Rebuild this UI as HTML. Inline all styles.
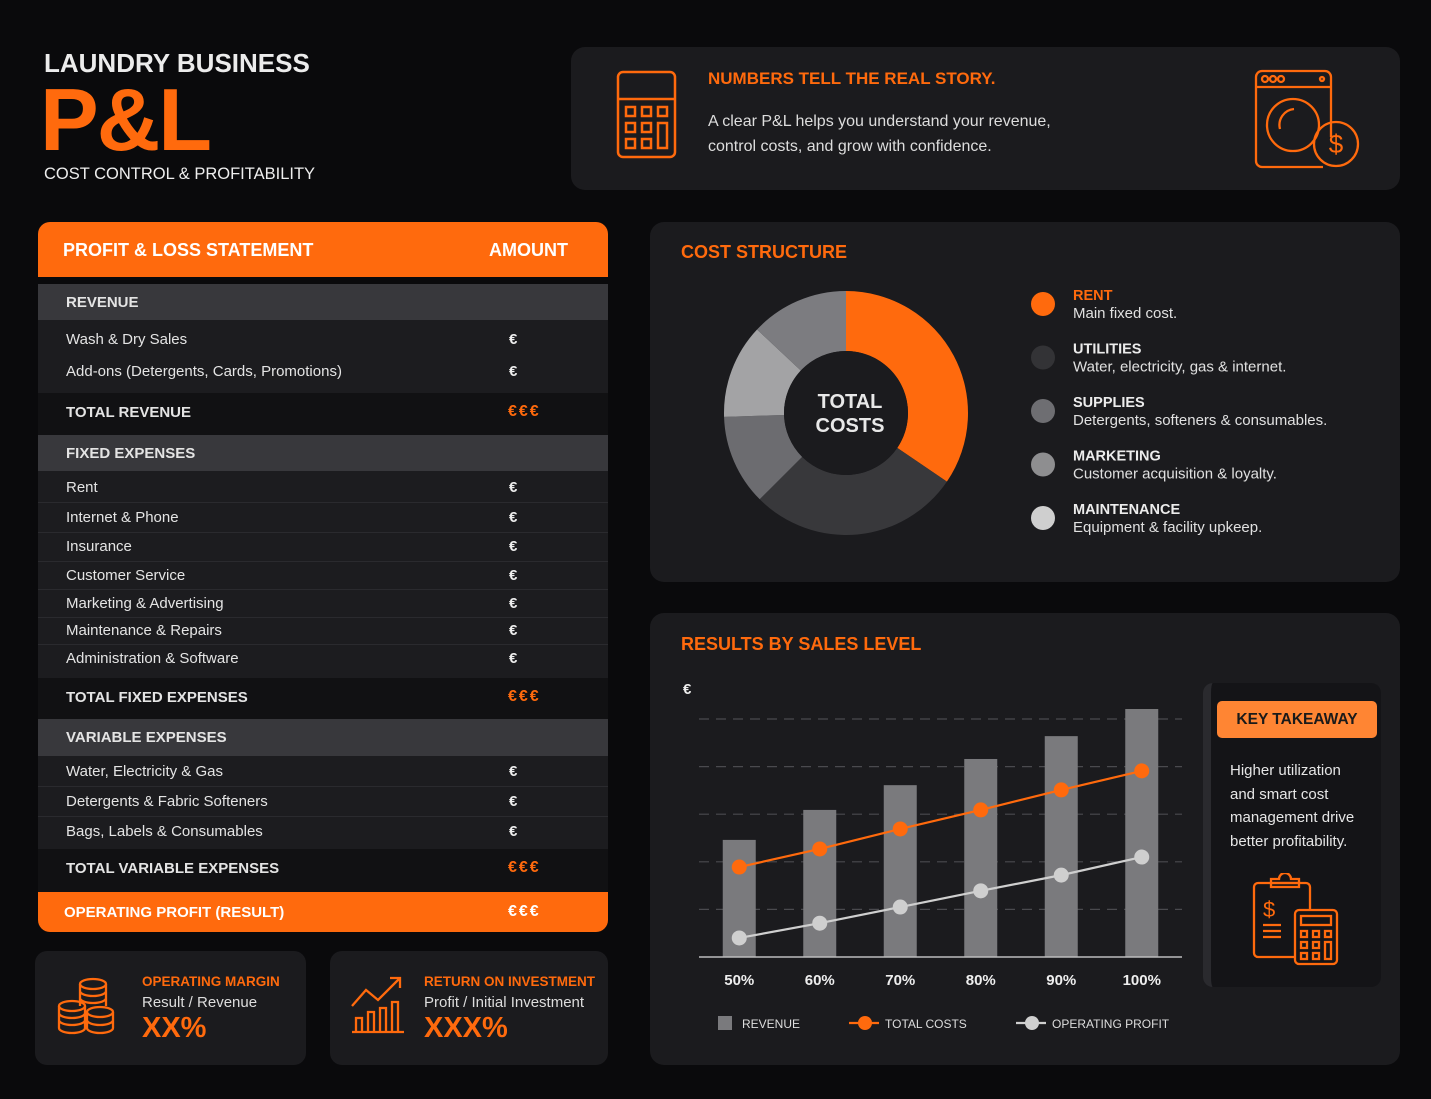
<!DOCTYPE html>
<html><head><meta charset="utf-8">
<style>
*{box-sizing:border-box;margin:0;padding:0}
body{width:1431px;height:1099px;background:#0a0a0c;font-family:"Liberation Sans",sans-serif;color:#e6e6e6;position:relative;overflow:hidden}
.abs{position:absolute}
.card{position:absolute;background:#1b1b1e;border-radius:14px}
.or{color:#ff6a0d}
.b{font-weight:bold}
.row{position:absolute;left:38px;width:570px}
.t{position:absolute;left:28px;font-size:15px;color:#e4e4e4;white-space:nowrap}
.e{position:absolute;left:471px;font-size:15px;font-weight:bold;color:#eee}
.e3{position:absolute;left:470px;font-size:16px;font-weight:bold;letter-spacing:2px;color:#ff6a0d}
.sep{position:absolute;left:38px;width:570px;height:1px;background:#2a2a2e}
</style></head><body>
<div class="abs b" style="left:44px;top:48px;font-size:26px;color:#ececec">LAUNDRY BUSINESS</div>
<div class="abs b or" style="left:40px;top:70px;font-size:88px;line-height:100px;letter-spacing:-2px">P&amp;L</div>
<div class="abs" style="left:44px;top:165px;font-size:16.5px;color:#eee">COST CONTROL &amp; PROFITABILITY</div>

<div class="card" style="left:571px;top:47px;width:829px;height:143px">
<svg class="abs" style="left:44px;top:22px" width="64" height="92" viewBox="0 0 64 92" fill="none" stroke="#ff6a0d" stroke-width="2.5"><rect x="3" y="3" width="57" height="85" rx="5"/><line x1="3" y1="30" x2="60" y2="30"/><rect x="11" y="38" width="9" height="9"/><rect x="27" y="38" width="9" height="9"/><rect x="43" y="38" width="9" height="9"/><rect x="11" y="54" width="9" height="9"/><rect x="27" y="54" width="9" height="9"/><rect x="43" y="54" width="9" height="25"/><rect x="11" y="70" width="9" height="9"/><rect x="27" y="70" width="9" height="9"/></svg>
<div class="abs b or" style="left:137px;top:22px;font-size:17px">NUMBERS TELL THE REAL STORY.</div>
<div class="abs" style="left:137px;top:62px;font-size:16px;line-height:25px;color:#ddd">A clear P&amp;L helps you understand your revenue,<br>control costs, and grow with confidence.</div>
<svg class="abs" style="left:682px;top:20px" width="110" height="105" viewBox="0 0 110 105" fill="none" stroke="#ff6a0d" stroke-width="2.3"><path d="M78 70 V10 a6 6 0 0 0-6-6 H9 a6 6 0 0 0-6 6 V94 a6 6 0 0 0 6 6 H70"/><line x1="3" y1="20" x2="78" y2="20"/><circle cx="12" cy="12" r="3"/><circle cx="20" cy="12" r="3"/><circle cx="28" cy="12" r="3"/><circle cx="69" cy="12" r="2"/><circle cx="40" cy="58" r="26"/><path d="M27 62 a16 16 0 0 1 14-20"/><circle cx="83" cy="77" r="22"/><text x="83" y="86" font-size="26" fill="#ff6a0d" stroke="none" text-anchor="middle" font-family="Liberation Sans">$</text></svg>
</div>

<div class="abs" style="left:38px;top:222px;width:570px;height:55px;background:#ff6a0d;border-radius:12px 12px 0 0">
<div class="abs b" style="left:25px;top:18px;font-size:18px;color:#fff">PROFIT &amp; LOSS STATEMENT</div>
<div class="abs b" style="left:451px;top:18px;font-size:18px;color:#fff">AMOUNT</div></div>

<div class="row" style="top:284px;height:36px;background:#38383c"><div class="t b" style="top:10px">REVENUE</div></div>
<div class="row" style="top:320px;height:73px;background:#1c1c1f">
<div class="t" style="top:11px">Wash &amp; Dry Sales</div><div class="e" style="top:11px">€</div>
<div class="t" style="top:43px">Add-ons (Detergents, Cards, Promotions)</div><div class="e" style="top:43px">€</div></div>
<div class="row" style="top:393px;height:42px;background:#111113"><div class="t b" style="top:11px">TOTAL REVENUE</div><div class="e3" style="top:10px">€€€</div></div>
<div class="row" style="top:435px;height:36px;background:#38383c"><div class="t b" style="top:10px">FIXED EXPENSES</div></div>
<div class="row" style="top:471px;height:207px;background:#1c1c1f">
<div class="t" style="top:8px">Rent</div><div class="e" style="top:8px">€</div>
<div class="t" style="top:38px">Internet &amp; Phone</div><div class="e" style="top:38px">€</div>
<div class="t" style="top:67px">Insurance</div><div class="e" style="top:67px">€</div>
<div class="t" style="top:96px">Customer Service</div><div class="e" style="top:96px">€</div>
<div class="t" style="top:124px">Marketing &amp; Advertising</div><div class="e" style="top:124px">€</div>
<div class="t" style="top:151px">Maintenance &amp; Repairs</div><div class="e" style="top:151px">€</div>
<div class="t" style="top:179px">Administration &amp; Software</div><div class="e" style="top:179px">€</div></div>
<div class="sep" style="top:502px"></div><div class="sep" style="top:532px"></div><div class="sep" style="top:561px"></div><div class="sep" style="top:589px"></div><div class="sep" style="top:617px"></div><div class="sep" style="top:644px"></div>
<div class="row" style="top:678px;height:41px;background:#111113"><div class="t b" style="top:11px">TOTAL FIXED EXPENSES</div><div class="e3" style="top:10px">€€€</div></div>
<div class="row" style="top:719px;height:37px;background:#38383c"><div class="t b" style="top:10px">VARIABLE EXPENSES</div></div>
<div class="row" style="top:756px;height:93px;background:#1c1c1f">
<div class="t" style="top:7px">Water, Electricity &amp; Gas</div><div class="e" style="top:7px">€</div>
<div class="t" style="top:37px">Detergents &amp; Fabric Softeners</div><div class="e" style="top:37px">€</div>
<div class="t" style="top:67px">Bags, Labels &amp; Consumables</div><div class="e" style="top:67px">€</div></div>
<div class="sep" style="top:786px"></div><div class="sep" style="top:816px"></div>
<div class="row" style="top:849px;height:43px;background:#111113"><div class="t b" style="top:11px">TOTAL VARIABLE EXPENSES</div><div class="e3" style="top:10px">€€€</div></div>
<div class="row" style="top:892px;height:40px;background:#ff6a0d;border-radius:0 0 12px 12px"><div class="t b" style="top:12px;left:26px;color:#fff">OPERATING PROFIT (RESULT)</div><div class="e3" style="top:11px;color:#fff">€€€</div></div>

<div class="card" style="left:35px;top:951px;width:271px;height:114px;border-radius:12px">
<svg class="abs" style="left:20px;top:25px" width="62" height="62" viewBox="0 0 62 62" fill="none" stroke="#ff6a0d" stroke-width="2.3"><ellipse cx="38" cy="8" rx="13" ry="5"/><path d="M25 8v22M51 8v22M25 15a13 5 0 0 0 26 0M25 22a13 5 0 0 0 26 0"/><ellipse cx="17" cy="30" rx="13" ry="5"/><path d="M4 30v22a13 5 0 0 0 26 0V30M4 37a13 5 0 0 0 26 0M4 44a13 5 0 0 0 26 0"/><ellipse cx="45" cy="36" rx="13" ry="5"/><path d="M32 36v16a13 5 0 0 0 26 0V36M32 44a13 5 0 0 0 26 0"/></svg>
<div class="abs b or" style="left:107px;top:23px;font-size:13.5px">OPERATING MARGIN</div>
<div class="abs" style="left:107px;top:43px;font-size:15px;color:#ddd">Result / Revenue</div>
<div class="abs b or" style="left:107px;top:61px;font-size:29px">XX%</div></div>
<div class="card" style="left:330px;top:951px;width:278px;height:114px;border-radius:12px">
<svg class="abs" style="left:20px;top:25px" width="56" height="60" viewBox="0 0 56 60" fill="none" stroke="#ff6a0d" stroke-width="2.3"><path d="M2 30 L16 14 L28 24 L50 2 M40 2h10v10"/><path d="M2 56h52M6 56V42h6v14M18 56V36h6v20M30 56V32h6v24M42 56V26h6v30"/></svg>
<div class="abs b or" style="left:94px;top:23px;font-size:13.5px">RETURN ON INVESTMENT</div>
<div class="abs" style="left:94px;top:43px;font-size:15px;color:#ddd">Profit / Initial Investment</div>
<div class="abs b or" style="left:94px;top:61px;font-size:29px">XXX%</div></div>

<div class="card" style="left:650px;top:222px;width:750px;height:360px">
<div class="abs b or" style="left:31px;top:20px;font-size:18px">COST STRUCTURE</div>
<svg id="donut" class="abs" style="left:0;top:0" width="750" height="360"></svg>
</div>

<div class="card" style="left:650px;top:613px;width:750px;height:452px">
<div class="abs b or" style="left:31px;top:21px;font-size:18px">RESULTS BY SALES LEVEL</div>
<div class="abs" style="left:553px;top:70px;width:178px;height:304px;background:#141417;border-radius:10px;border-left:8px solid #2a2a2e">
<div class="abs b" style="left:6px;top:18px;width:160px;height:37px;background:#ff8533;border-radius:5px;color:#1a1a1a;font-size:15.5px;text-align:center;line-height:37px">KEY TAKEAWAY</div>
<div class="abs" style="left:19px;top:76px;font-size:15px;line-height:23.5px;color:#e6e6e6">Higher utilization<br>and smart cost<br>management drive<br>better profitability.</div>
<svg class="abs" style="left:40px;top:190px" width="90" height="95" viewBox="0 0 90 95" fill="none" stroke="#ff6a0d" stroke-width="2.3"><rect x="3" y="10" width="56" height="74" rx="4"/><path d="M20 10v-4h8a6 6 0 0 1 12 0h8v4"/><path d="M20 10h28v4H20z"/><text x="12" y="44" font-size="22" fill="#ff6a0d" stroke="none" font-family="Liberation Sans">$</text><path d="M12 52h18M12 58h18M12 64h18"/><rect x="44" y="37" width="42" height="54" rx="4" fill="#141417"/><rect x="50" y="43" width="30" height="9"/><rect x="50" y="58" width="6" height="6"/><rect x="62" y="58" width="6" height="6"/><rect x="74" y="58" width="6" height="6"/><rect x="50" y="69" width="6" height="6"/><rect x="62" y="69" width="6" height="6"/><rect x="74" y="69" width="6" height="17"/><rect x="50" y="80" width="6" height="6"/><rect x="62" y="80" width="6" height="6"/></svg>
</div>
</div>
<svg id="chart" class="abs" style="left:0;top:0;pointer-events:none" width="1431" height="1099"></svg>

<script>
const sliceNames=["rent","utilities","supplies","maintenance","marketing"];
const sliceValues=[34.5,28,12,12.5,13];
const sliceColors=["#ff6a0d","#38383b","#6c6c70","#a3a3a5","#7c7c80"];
const legendNames=["RENT","UTILITIES","SUPPLIES","MARKETING","MAINTENANCE"];
const legendDescs=["Main fixed cost.","Water, electricity, gas & internet.","Detergents, softeners & consumables.","Customer acquisition & loyalty.","Equipment & facility upkeep."];
const legendColors=["#ff6a0d","#333336","#6e6e72","#8e8e90","#cfcfcf"];

const levels=["50%","60%","70%","80%","90%","100%"];
const revenue=[2.46,3.09,3.61,4.16,4.64,5.21];
const totalCosts=[1.89,2.27,2.69,3.09,3.51,3.91];
const operatingProfit=[0.40,0.71,1.05,1.39,1.72,2.10];
const gridValues=[1,2,3,4,5];

const NS="http://www.w3.org/2000/svg";
function mk(p,tag,a){const e=document.createElementNS(NS,tag);for(const k in a)e.setAttribute(k,a[k]);p.appendChild(e);return e;}

const d=document.getElementById('donut');
const cx=196,cy=191,R=122,r=62;
const tot=sliceValues.reduce((a,b)=>a+b,0);
let ang=0;
function pt(rad,a){return [cx+rad*Math.sin(a),cy-rad*Math.cos(a)];}
sliceValues.forEach((v,i)=>{
 const a0=ang,a1=ang+v/tot*2*Math.PI;ang=a1;
 const lg=(a1-a0)>Math.PI?1:0;
 const p0=pt(R,a0),p1=pt(R,a1),q1=pt(r,a1),q0=pt(r,a0);
 const el=mk(d,'path',{d:`M${p0} A${R} ${R} 0 ${lg} 1 ${p1} L${q1} A${r} ${r} 0 ${lg} 0 ${q0}Z`,fill:sliceColors[i]});
 
 
});
mk(d,'circle',{cx:cx,cy:cy,r:r,fill:'#1b1b1e'});
const t1=mk(d,'text',{x:cx+4,y:186,'text-anchor':'middle','font-size':20,'font-weight':'bold',fill:'#e8e8e8'});t1.textContent='TOTAL';
const t2=mk(d,'text',{x:cx+4,y:210,'text-anchor':'middle','font-size':20,'font-weight':'bold',fill:'#e8e8e8'});t2.textContent='COSTS';
legendNames.forEach((n,i)=>{
 const y=82+i*53.5;
 const g=mk(d,'g',{});
 
 
 mk(g,'circle',{cx:393,cy:y,r:12,fill:legendColors[i]});
 const a=mk(g,'text',{x:423,y:y-4,'font-size':14.5,'font-weight':'bold',fill:i===0?'#ff6a0d':'#ececec'});a.textContent=n;
 const b=mk(g,'text',{x:423,y:y+14,'font-size':15,fill:'#e0e0e0'});b.textContent=legendDescs[i];
});

const c=document.getElementById('chart');
const x0=699,x1=1182,base=957,unit=47.6;
const band=(x1-x0)/levels.length;
const X=i=>x0+band*(i+0.5);
const Y=v=>base-v*unit;
const eu=mk(c,'text',{x:683,y:694,'font-size':15,'font-weight':'bold',fill:'#eee'});eu.textContent='€';
gridValues.forEach(v=>{const l=mk(c,'line',{x1:x0,x2:x1,y1:Y(v),y2:Y(v),stroke:'#4a4a4e','stroke-width':1.2,'stroke-dasharray':'10 7'});
 });
revenue.forEach((v,i)=>{const b=mk(c,'rect',{x:X(i)-16.5,y:Y(v),width:33,height:base-Y(v),fill:'#7a7a7d'});
 });
const ax=mk(c,'line',{x1:x0,x2:x1,y1:base,y2:base,stroke:'#bdbdbd','stroke-width':1.5});

levels.forEach((l,i)=>{const t=mk(c,'text',{x:X(i),y:985,'text-anchor':'middle','font-size':15,'font-weight':'bold',fill:'#eee'});t.textContent=l;
 });
function series(vals,col,name){
 const pl=mk(c,'polyline',{points:vals.map((v,i)=>X(i)+','+Y(v)).join(' '),fill:'none',stroke:col,'stroke-width':2.2});
 
 vals.forEach((v,i)=>{const p=mk(c,'circle',{cx:X(i),cy:Y(v),r:7.5,fill:col});
  });
}
series(totalCosts,'#ff6a0d','total-costs');
series(operatingProfit,'#cfcfcf','operating-profit');
const lg1=mk(c,'rect',{x:718,y:1016,width:14,height:14,fill:'#7a7a7d'});

const lt1=mk(c,'text',{x:742,y:1028,'font-size':12,fill:'#ddd'});lt1.textContent='REVENUE';
mk(c,'line',{x1:849,x2:879,y1:1023,y2:1023,stroke:'#ff6a0d','stroke-width':2.2});
mk(c,'circle',{cx:865,cy:1023,r:7,fill:'#ff6a0d'});
const lt2=mk(c,'text',{x:885,y:1028,'font-size':12,fill:'#ddd'});lt2.textContent='TOTAL COSTS';
mk(c,'line',{x1:1016,x2:1046,y1:1023,y2:1023,stroke:'#cfcfcf','stroke-width':2.2});
mk(c,'circle',{cx:1032,cy:1023,r:7,fill:'#cfcfcf'});
const lt3=mk(c,'text',{x:1052,y:1028,'font-size':12,fill:'#ddd'});lt3.textContent='OPERATING PROFIT';
</script>
</body></html>
